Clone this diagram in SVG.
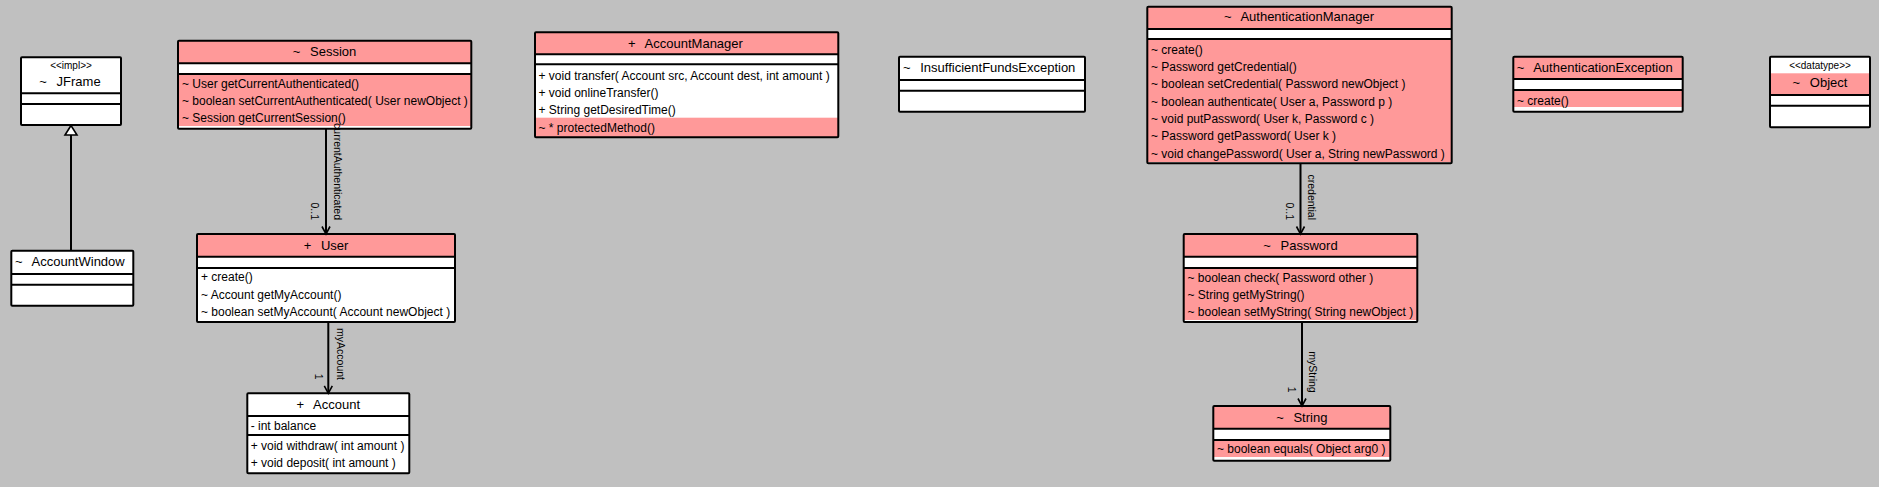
<svg xmlns="http://www.w3.org/2000/svg" width="1879" height="487" viewBox="0 0 1879 487">
<style>
text{font-family:"Liberation Sans",Arial,Helvetica,sans-serif;fill:#000}
.t{font-size:13px}
.tc{font-size:13px;text-anchor:middle}
.op{font-size:12px}
.st{font-size:10px;text-anchor:middle}
.lb{font-size:10.5px;text-anchor:end}
.bodyw{fill:#fff}
.pk{fill:#ff9999}
.sep{stroke:#000;stroke-width:2}
.out{fill:none;stroke:#000;stroke-width:2}
.conn{fill:none;stroke:#000;stroke-width:2}
.head{fill:none;stroke:#000;stroke-width:1.6}
</style>
<rect x="0" y="0" width="1879" height="487" fill="#c0c0c0"/>

<g id="JFrame">
  <rect class="bodyw" x="21" y="57.3" width="100" height="67.7"/>
  <line class="sep" x1="21" y1="93.3" x2="121" y2="93.3"/>
  <line class="sep" x1="21" y1="104" x2="121" y2="104"/>
  <rect class="out" x="21" y="57.3" width="100" height="67.7" rx="1"/>
  <text class="st" x="71" y="68.5">&lt;&lt;impl&gt;&gt;</text>
  <text class="tc" x="70" y="85.7">~ <tspan dx="6">JFrame</tspan></text>
</g>

<g id="AccountWindow">
  <rect class="bodyw" x="11.3" y="250.7" width="122" height="55"/>
  <line class="sep" x1="11.3" y1="274" x2="133.3" y2="274"/>
  <line class="sep" x1="11.3" y1="284.7" x2="133.3" y2="284.7"/>
  <rect class="out" x="11.3" y="250.7" width="122" height="55" rx="1"/>
  <text class="t" x="15" y="265.7">~ <tspan dx="6">AccountWindow</tspan></text>
</g>

<g id="Session">
  <rect class="bodyw" x="178" y="40.7" width="293.3" height="88"/>
  <rect class="pk" x="178" y="40.7" width="293.3" height="22.6"/>
  <rect class="pk" x="178" y="74" width="293.3" height="52"/>
  <line class="sep" x1="178" y1="63.3" x2="471.3" y2="63.3"/>
  <line class="sep" x1="178" y1="74" x2="471.3" y2="74"/>
  <rect class="out" x="178" y="40.7" width="293.3" height="88" rx="1"/>
  <text class="tc" x="324.6" y="56">~ <tspan dx="6">Session</tspan></text>
  <text class="op" x="182" y="87.5">~ User getCurrentAuthenticated()</text>
  <text class="op" x="182" y="104.9">~ boolean setCurrentAuthenticated( User newObject )</text>
  <text class="op" x="182" y="122.2">~ Session getCurrentSession()</text>
</g>

<g id="User">
  <rect class="bodyw" x="197" y="234" width="258" height="88"/>
  <rect class="pk" x="197" y="234" width="258" height="22.7"/>
  <line class="sep" x1="197" y1="256.7" x2="455" y2="256.7"/>
  <line class="sep" x1="197" y1="268" x2="455" y2="268"/>
  <rect class="out" x="197" y="234" width="258" height="88" rx="1"/>
  <text class="tc" x="326" y="249.7">+ <tspan dx="6">User</tspan></text>
  <text class="op" x="201" y="281.2">+ create()</text>
  <text class="op" x="201" y="298.5">~ Account getMyAccount()</text>
  <text class="op" x="201" y="315.9">~ boolean setMyAccount( Account newObject )</text>
</g>

<g id="Account">
  <rect class="bodyw" x="247.3" y="393.3" width="162" height="80"/>
  <line class="sep" x1="247.3" y1="416" x2="409.3" y2="416"/>
  <line class="sep" x1="247.3" y1="435" x2="409.3" y2="435"/>
  <rect class="out" x="247.3" y="393.3" width="162" height="80" rx="1"/>
  <text class="tc" x="328.3" y="408.7">+ <tspan dx="6">Account</tspan></text>
  <text class="op" x="250.7" y="429.5">- int balance</text>
  <text class="op" x="250.7" y="450.2">+ void withdraw( int amount )</text>
  <text class="op" x="250.7" y="466.9">+ void deposit( int amount )</text>
</g>

<g id="AccountManager">
  <rect class="bodyw" x="535" y="32.3" width="303.3" height="105"/>
  <rect class="pk" x="535" y="32.3" width="303.3" height="22"/>
  <rect class="pk" x="535" y="117.7" width="303.3" height="19.6"/>
  <line class="sep" x1="535" y1="54.3" x2="838.3" y2="54.3"/>
  <line class="sep" x1="535" y1="64.3" x2="838.3" y2="64.3"/>
  <rect class="out" x="535" y="32.3" width="303.3" height="105" rx="1"/>
  <text class="tc" x="685.5" y="48">+ <tspan dx="6">AccountManager</tspan></text>
  <text class="op" x="538.5" y="79.9">+ void transfer( Account src, Account dest, int amount )</text>
  <text class="op" x="538.5" y="96.5">+ void onlineTransfer()</text>
  <text class="op" x="538.5" y="114.2">+ String getDesiredTime()</text>
  <text class="op" x="538.5" y="131.5">~ * protectedMethod()</text>
</g>

<g id="InsufficientFundsException">
  <rect class="bodyw" x="899" y="56.7" width="186" height="55"/>
  <line class="sep" x1="899" y1="80" x2="1085" y2="80"/>
  <line class="sep" x1="899" y1="90.7" x2="1085" y2="90.7"/>
  <rect class="out" x="899" y="56.7" width="186" height="55" rx="1"/>
  <text class="t" x="903" y="72.4">~ <tspan dx="6">InsufficientFundsException</tspan></text>
</g>

<g id="AuthenticationManager">
  <rect class="bodyw" x="1147.3" y="6.7" width="304.4" height="156.6"/>
  <rect class="pk" x="1147.3" y="6.7" width="304.4" height="22.3"/>
  <rect class="pk" x="1147.3" y="39" width="304.4" height="123"/>
  <line class="sep" x1="1147.3" y1="29" x2="1451.7" y2="29"/>
  <line class="sep" x1="1147.3" y1="39" x2="1451.7" y2="39"/>
  <rect class="out" x="1147.3" y="6.7" width="304.4" height="156.6" rx="1"/>
  <text class="tc" x="1299" y="20.7">~ <tspan dx="6">AuthenticationManager</tspan></text>
  <text class="op" x="1151" y="53.5">~ create()</text>
  <text class="op" x="1151" y="70.9">~ Password getCredential()</text>
  <text class="op" x="1151" y="88.2">~ boolean setCredential( Password newObject )</text>
  <text class="op" x="1151" y="105.5">~ boolean authenticate( User a, Password p )</text>
  <text class="op" x="1151" y="122.9">~ void putPassword( User k, Password c )</text>
  <text class="op" x="1151" y="140.2">~ Password getPassword( User k )</text>
  <text class="op" x="1151" y="157.5">~ void changePassword( User a, String newPassword )</text>
</g>

<g id="Password">
  <rect class="bodyw" x="1183.7" y="234" width="233.6" height="88"/>
  <rect class="pk" x="1183.7" y="234" width="233.6" height="22.7"/>
  <rect class="pk" x="1183.7" y="268" width="233.6" height="52"/>
  <line class="sep" x1="1183.7" y1="256.7" x2="1417.3" y2="256.7"/>
  <line class="sep" x1="1183.7" y1="268" x2="1417.3" y2="268"/>
  <rect class="out" x="1183.7" y="234" width="233.6" height="88" rx="1"/>
  <text class="tc" x="1300.5" y="249.7">~ <tspan dx="6">Password</tspan></text>
  <text class="op" x="1187.5" y="281.5">~ boolean check( Password other )</text>
  <text class="op" x="1187.5" y="298.9">~ String getMyString()</text>
  <text class="op" x="1187.5" y="316.2">~ boolean setMyString( String newObject )</text>
</g>

<g id="String">
  <rect class="bodyw" x="1213.3" y="406" width="177" height="54.7"/>
  <rect class="pk" x="1213.3" y="406" width="177" height="22.7"/>
  <rect class="pk" x="1213.3" y="440" width="177" height="17"/>
  <line class="sep" x1="1213.3" y1="428.7" x2="1390.3" y2="428.7"/>
  <line class="sep" x1="1213.3" y1="440" x2="1390.3" y2="440"/>
  <rect class="out" x="1213.3" y="406" width="177" height="54.7" rx="1"/>
  <text class="tc" x="1301.8" y="422">~ <tspan dx="6">String</tspan></text>
  <text class="op" x="1217" y="453.2">~ boolean equals( Object arg0 )</text>
</g>

<g id="AuthenticationException">
  <rect class="bodyw" x="1513.3" y="56.7" width="169.4" height="55"/>
  <rect class="pk" x="1513.3" y="56.7" width="169.4" height="22.3"/>
  <rect class="pk" x="1513.3" y="90" width="169.4" height="17"/>
  <line class="sep" x1="1513.3" y1="79" x2="1682.7" y2="79"/>
  <line class="sep" x1="1513.3" y1="90" x2="1682.7" y2="90"/>
  <rect class="out" x="1513.3" y="56.7" width="169.4" height="55" rx="1"/>
  <text class="t" x="1516.7" y="72.4">~ <tspan dx="6">AuthenticationException</tspan></text>
  <text class="op" x="1517" y="105.2">~ create()</text>
</g>

<g id="Object">
  <rect class="bodyw" x="1770" y="56.7" width="100" height="70.6"/>
  <rect class="pk" x="1770" y="73.3" width="100" height="21.7"/>
  <line class="sep" x1="1770" y1="95" x2="1870" y2="95"/>
  <line class="sep" x1="1770" y1="105.7" x2="1870" y2="105.7"/>
  <rect class="out" x="1770" y="56.7" width="100" height="70.6" rx="1"/>
  <text class="st" x="1820" y="68.5">&lt;&lt;datatype&gt;&gt;</text>
  <text class="tc" x="1820" y="87.4">~ <tspan dx="6">Object</tspan></text>
</g>

<g id="connectors">
  <path class="conn" d="M71,135 V250.7"/>
  <polygon points="71,125.5 65,135 77,135" fill="#fff" stroke="#000" stroke-width="1.6"/>
  <path class="conn" d="M326,128.7 V233"/>
  <path class="head" d="M322,226.5 L326,234 L330,226.5"/>
  <text class="lb" transform="translate(334,220) rotate(90)">currentAuthenticated</text>
  <text class="lb" transform="translate(311,220) rotate(90)">0..1</text>
  <path class="conn" d="M328.3,322 V392.3"/>
  <path class="head" d="M324.3,385.8 L328.3,393.3 L332.3,385.8"/>
  <text class="lb" transform="translate(336.5,380) rotate(90)">myAccount</text>
  <text class="lb" transform="translate(314.5,379.5) rotate(90)">1</text>
  <path class="conn" d="M1300.5,163.3 V233"/>
  <path class="head" d="M1296.5,226.5 L1300.5,234 L1304.5,226.5"/>
  <text class="lb" transform="translate(1308,220) rotate(90)">credential</text>
  <text class="lb" transform="translate(1286,220) rotate(90)">0..1</text>
  <path class="conn" d="M1302,322 V405"/>
  <path class="head" d="M1298,398.5 L1302,406 L1306,398.5"/>
  <text class="lb" transform="translate(1309,392.7) rotate(90)">myString</text>
  <text class="lb" transform="translate(1287.5,392.7) rotate(90)">1</text>
</g>
</svg>
